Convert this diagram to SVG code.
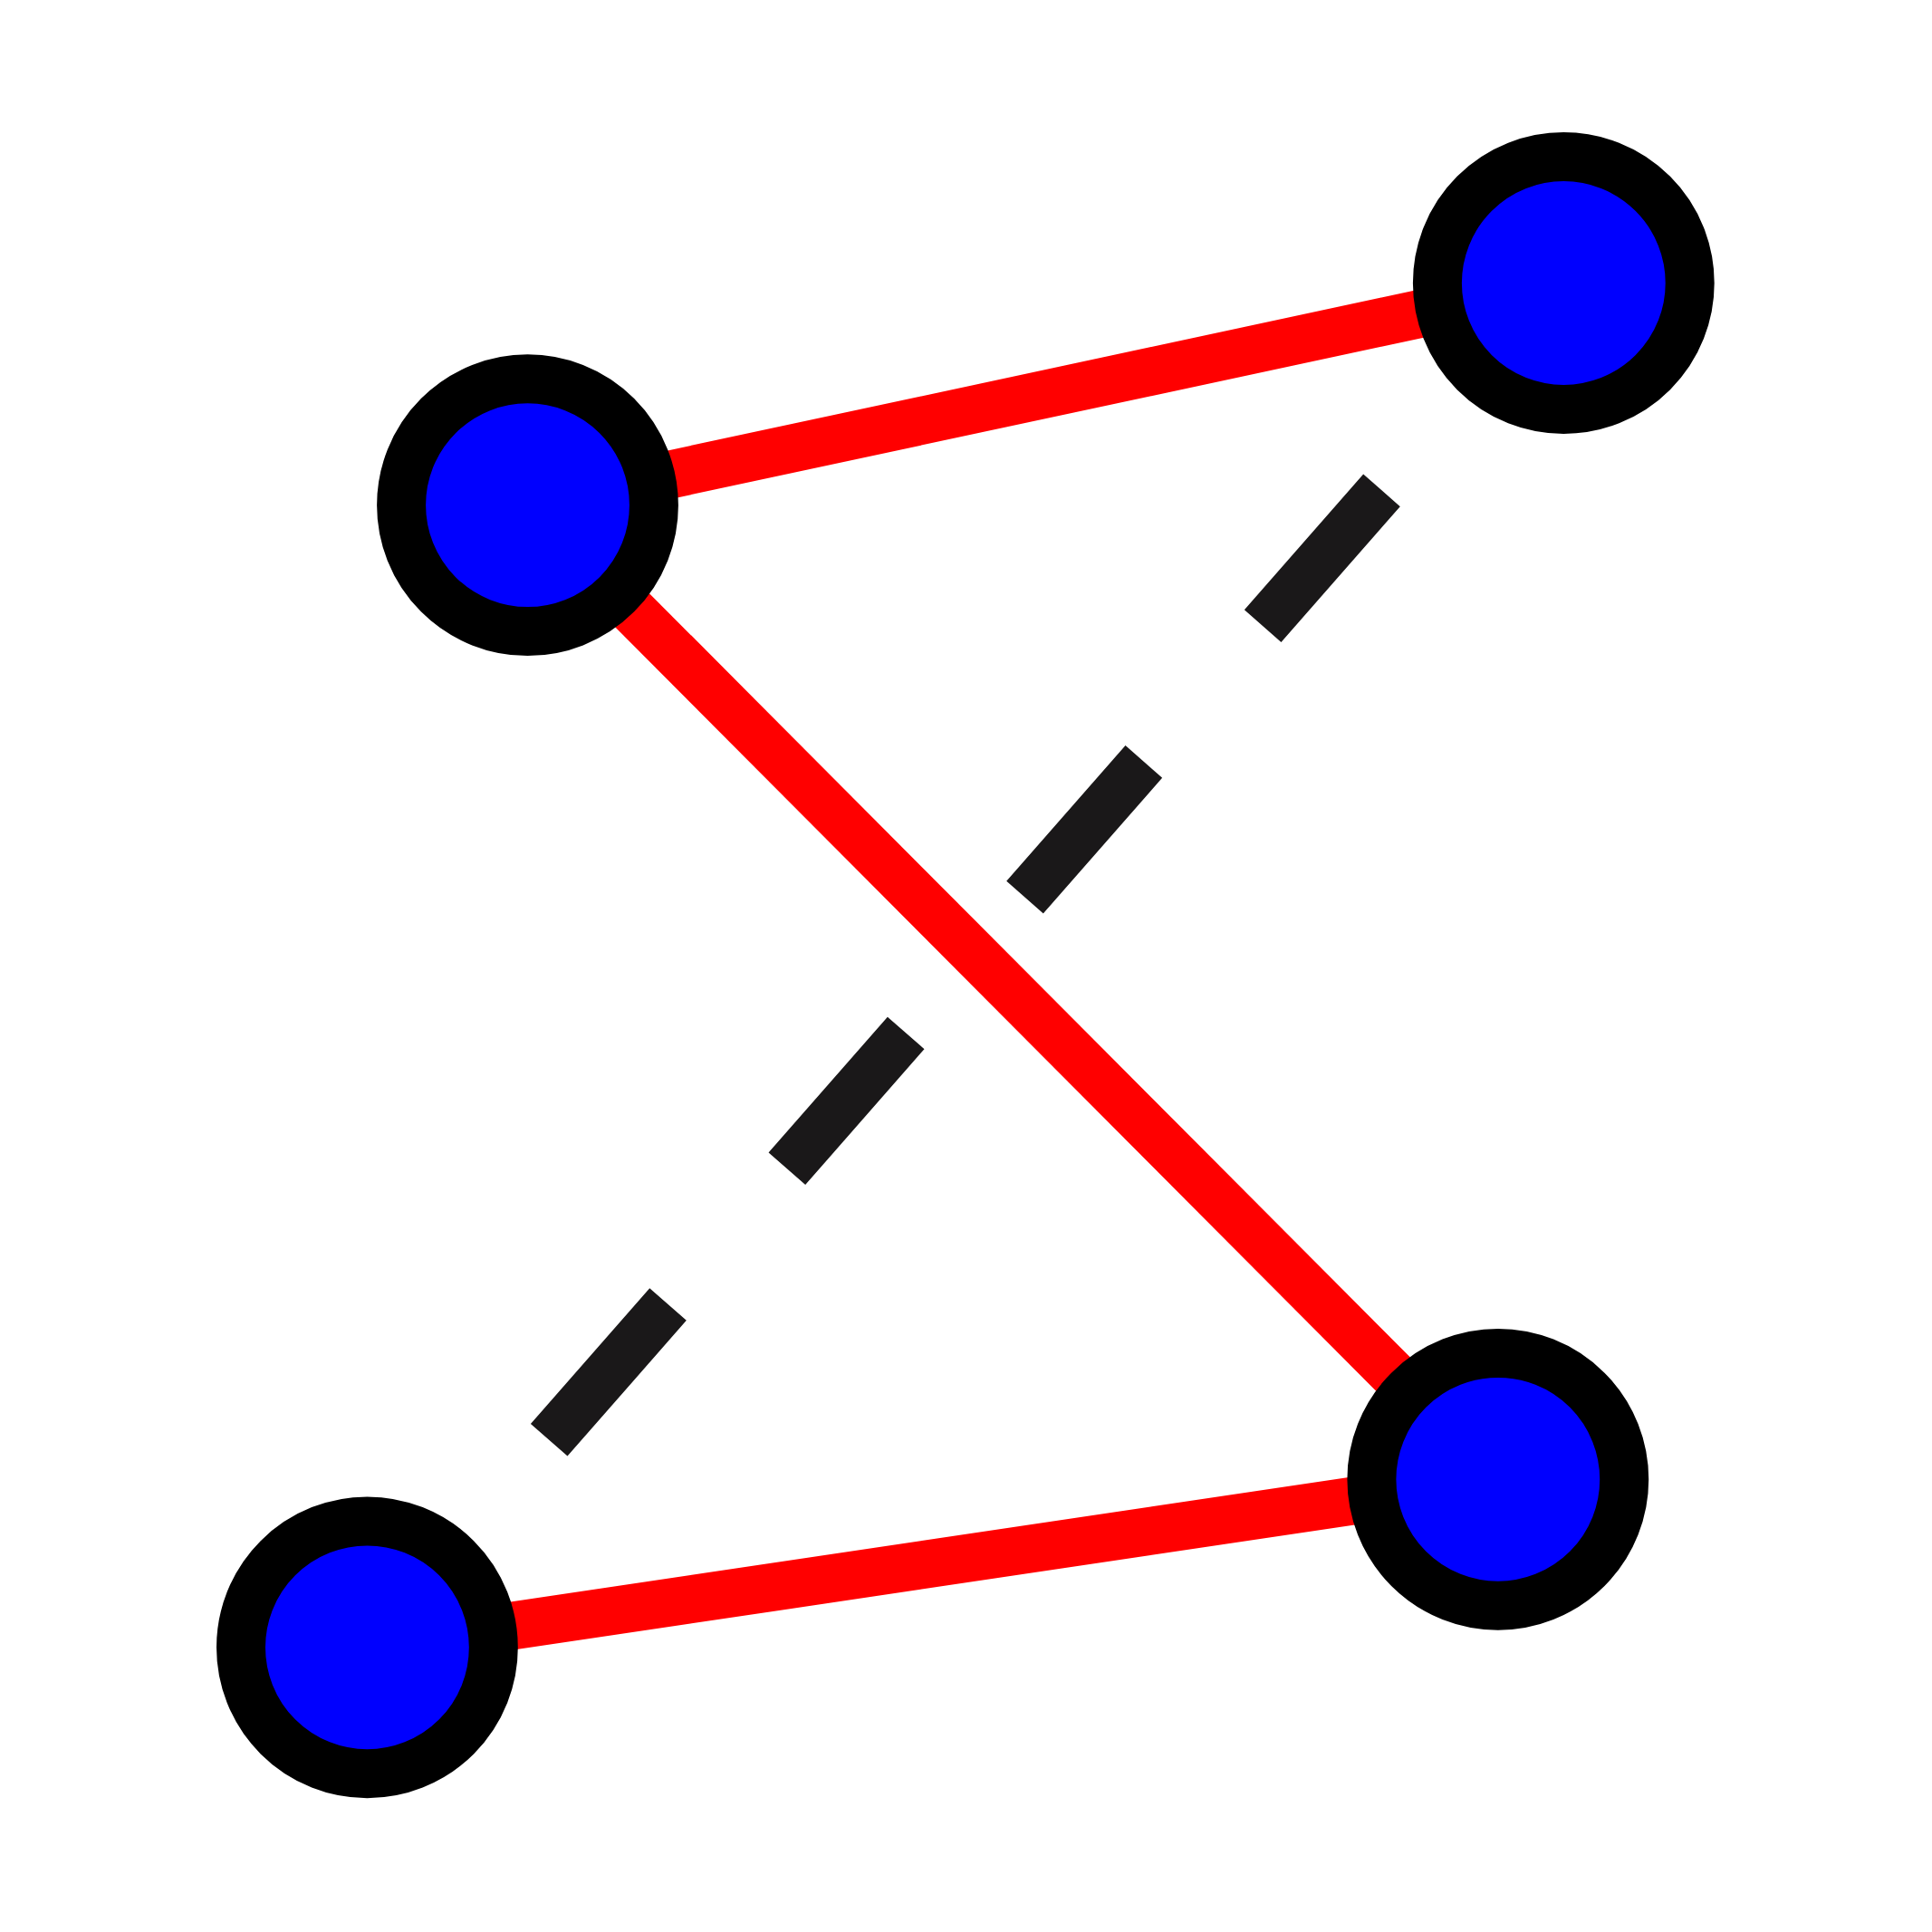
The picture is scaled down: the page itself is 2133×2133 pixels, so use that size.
<svg xmlns="http://www.w3.org/2000/svg" width="2133" height="2133" viewBox="0 0 2133 2133">
<style>
.edge{stroke:#ff0000;stroke-width:53;fill:none}
.dash{stroke:#1a1819;stroke-width:54;stroke-dasharray:199.2 199.2;fill:none;stroke-linecap:butt}
.node{fill:#0000ff;stroke:#000000;stroke-width:54}
</style>
<rect width="2133" height="2133" fill="#ffffff"/>
<g id="connectors">
<line class="edge" x1="582.5" y1="557.7" x2="1726.3" y2="312.5"/>
<line class="edge" x1="582.5" y1="557.7" x2="1653.8" y2="1633.3"/>
<line class="edge" x1="1653.8" y1="1633.3" x2="405.4" y2="1818.8"/>
<line class="dash" x1="606.2" y1="1589.8" x2="1525.5" y2="541.3"/>
</g>
<g id="nodeA"><circle class="node" cx="582.5" cy="557.7" r="139.4"/></g>
<g id="nodeB"><circle class="node" cx="1726.3" cy="312.5" r="139.4"/></g>
<g id="nodeC"><circle class="node" cx="1653.8" cy="1633.3" r="139.4"/></g>
<g id="nodeD"><circle class="node" cx="405.4" cy="1818.8" r="139.4"/></g>
</svg>
